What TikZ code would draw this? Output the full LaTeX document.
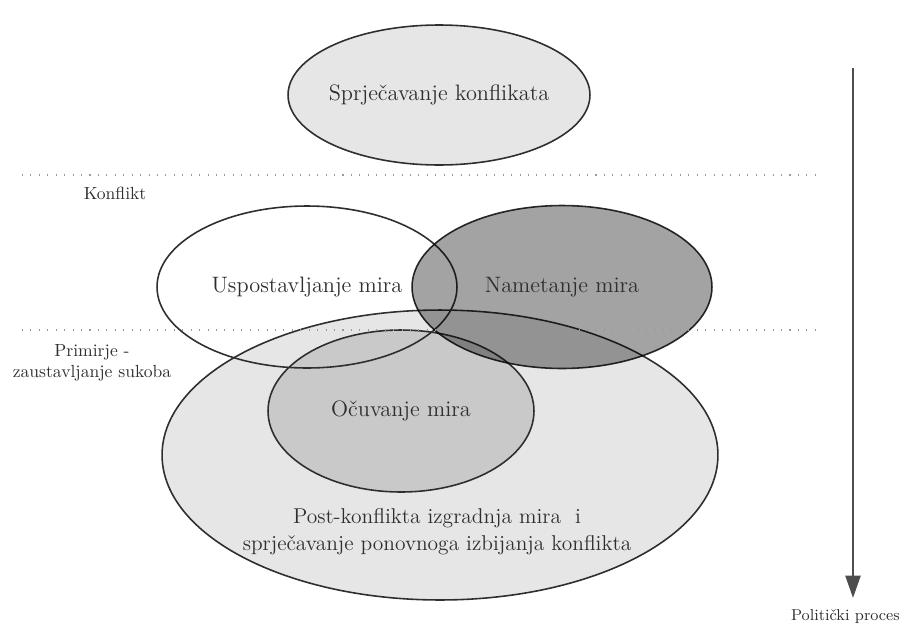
\documentclass[tikz,border=0pt]{standalone}
\usepackage{fontspec}
\usepackage{xcolor}
\usepackage{tikz}
\usetikzlibrary{arrows.meta, shapes, positioning}

\definecolor{inkgray}{HTML}{2E2E2E}
\definecolor{lightfill}{HTML}{E6E6E6}
\definecolor{midfill}{HTML}{C9C9C9}
\definecolor{darkfill}{HTML}{A3A3A3}

\begin{document}
\begin{tikzpicture}[x=0.02cm, y=-0.02cm,
        field/.style={ellipse, draw=inkgray, line width=0.9pt, inner sep=0pt},
        txt/.style={text=inkgray, font=\fontsize{12.7}{16}\selectfont, align=center},
        side/.style={text=inkgray, font=\fontsize{10}{12}\selectfont, align=center},
        border/.style={draw=gray!80, line width=0.7pt, dash pattern=on 0.6pt off 4.2pt}]
        \useasboundingbox (0,0) rectangle (909,629);

        \node[field, fill=lightfill, minimum width=6.04cm, minimum height=2.8cm] (e_top) at (439,95) {};
        \node[txt] (t_top) at (e_top.center) {Sprječavanje konflikata};

        \node[field, fill=lightfill, minimum width=11.12cm, minimum height=5.8cm] (e_post) at (440,455) {};
        \node[field, fill=midfill, minimum width=5.32cm, minimum height=3.24cm] (e_keep) at (401,411) {};
        \node[field, minimum width=6.0cm, minimum height=3.24cm] (e_make) at (307,287) {};
        \begin{scope}[blend mode=multiply]
            \node[field, fill=darkfill, minimum width=6.0cm, minimum height=3.26cm] (e_force) at (562,287) {};
        \end{scope}

        \node[txt] (t_make) at (e_make.center) {Uspostavljanje mira};
        \node[txt] (t_force) at (e_force.center) {Nametanje mira};
        \node[txt] (t_keep) at (e_keep.center) {Očuvanje mira};
        \node[txt, font=\fontsize{12.2}{15.5}\selectfont] (t_post) at (437,532) {Post-konflikta izgradnja mira\ \ i\\sprječavanje ponovnoga izbijanja konflikta};

        % phase borders
        \coordinate (b1_l) at (22,175);
        \coordinate (b1_r) at (815,175);
        \coordinate (b2_l) at (22,330);
        \coordinate (b2_r) at (815,330);
        \draw[border] (b1_l) -- (b1_r);
        \draw[border] (b2_l) -- (b2_r);
        \node[side] (conflict) at (115,193) {Konflikt};
        \node[side] (truce) at (92,363) {Primirje -\\zaustavljanje sukoba};

        % process arrow
        \coordinate (p_top) at (853,68);
        \coordinate (p_bot) at (853,598);
        \draw[-{Triangle[length=0.45cm, width=0.3cm]}, line width=1.5pt, draw=inkgray!85, fill=inkgray!85] (p_top) -- (p_bot);
        \node[side, font=\fontsize{9}{11}\selectfont, anchor=north east] (process) at (906,603) {Politički proces};
\end{tikzpicture}
\end{document}
